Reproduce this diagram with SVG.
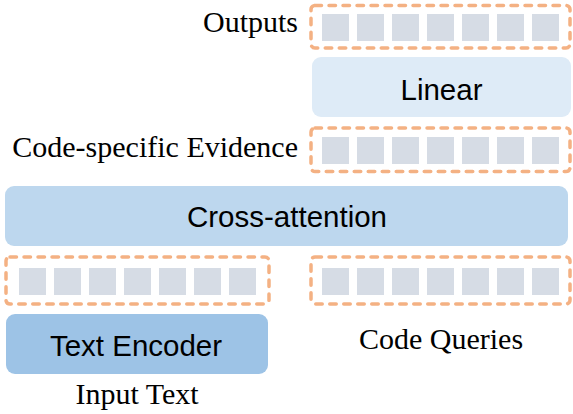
<svg xmlns="http://www.w3.org/2000/svg" width="573" height="414" viewBox="0 0 573 414">
<style>
.dash{fill:none;stroke:#F4B183;stroke-width:3.5;stroke-dasharray:6.5 7.5;stroke-linecap:round}
.sq{fill:#D6DCE5}
.serif{font-family:"Liberation Serif","Times New Roman",serif;font-size:30px;fill:#000}
.sans{font-family:"Liberation Sans",Arial,sans-serif;font-size:29.5px;fill:#000;text-anchor:middle}
</style>
<defs>
<g id="row">
<rect x="0" y="0" width="27" height="27" class="sq"/>
<rect x="35" y="0" width="27" height="27" class="sq"/>
<rect x="70" y="0" width="27" height="27" class="sq"/>
<rect x="105" y="0" width="27" height="27" class="sq"/>
<rect x="140" y="0" width="27" height="27" class="sq"/>
<rect x="175" y="0" width="27" height="27" class="sq"/>
<rect x="210" y="0" width="27" height="27" class="sq"/>
</g>
</defs>
<rect width="573" height="414" fill="#fff"/>
<g id="connectors"></g>
<g id="outputs">
<rect x="311" y="5.5" width="259" height="42.5" rx="4" class="dash"/>
<use href="#row" x="322" y="14"/>
<text x="298" y="32" class="serif" text-anchor="end">Outputs</text>
</g>
<g id="linear">
<rect x="312" y="57" width="259" height="60" rx="9" fill="#DEEBF7"/>
<text x="441.5" y="100" class="sans">Linear</text>
</g>
<g id="evidence">
<rect x="311" y="128" width="259" height="43.5" rx="4" class="dash"/>
<use href="#row" x="322" y="137"/>
<text x="298" y="157" class="serif" text-anchor="end">Code-specific Evidence</text>
</g>
<g id="cross-attention">
<rect x="5" y="186" width="563" height="60" rx="9" fill="#BDD7EE"/>
<text x="287" y="227" class="sans">Cross-attention</text>
</g>
<g id="text-tokens">
<rect x="6" y="257" width="263" height="47" rx="4" class="dash"/>
<use href="#row" x="19" y="268"/>
</g>
<g id="code-queries">
<rect x="311" y="257" width="259" height="47" rx="4" class="dash"/>
<use href="#row" x="322" y="268"/>
<text x="441" y="349" class="serif" text-anchor="middle">Code Queries</text>
</g>
<g id="text-encoder">
<rect x="6" y="314" width="262" height="60" rx="9" fill="#9DC3E6"/>
<text x="136" y="356" class="sans">Text Encoder</text>
<text x="137" y="404" class="serif" text-anchor="middle">Input Text</text>
</g>
</svg>
